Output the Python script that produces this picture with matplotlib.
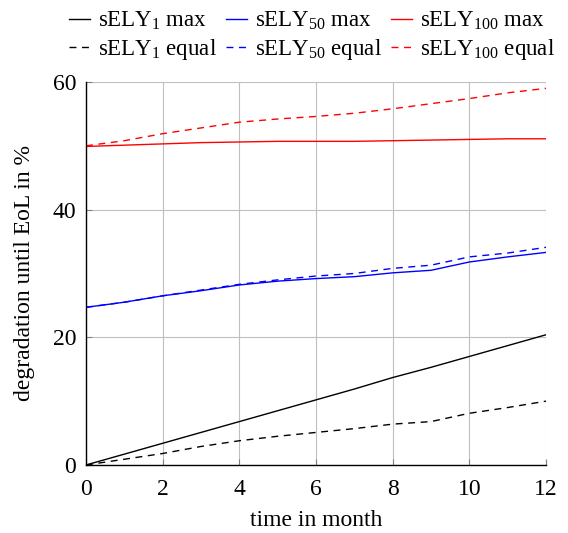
import matplotlib
matplotlib.use("Agg")
import matplotlib.pyplot as plt

plt.rcParams['font.family'] = ['Liberation Serif', 'DejaVu Serif']
plt.rcParams['mathtext.fontset'] = 'custom'
plt.rcParams['mathtext.rm'] = 'Liberation Serif'
plt.rcParams['mathtext.it'] = 'Liberation Serif:italic'

months = list(range(13))
ely1_max = [0.0, 1.7, 3.4, 5.1, 6.8, 8.5, 10.2, 11.9, 13.7, 15.3, 17.0, 18.7, 20.4]
ely1_equal = [0.0, 0.9, 1.8, 2.9, 3.8, 4.5, 5.1, 5.7, 6.4, 6.8, 8.1, 9.0, 10.0]
ely50_max = [24.7, 25.5, 26.5, 27.3, 28.2, 28.8, 29.2, 29.5, 30.1, 30.5, 31.8, 32.6, 33.3]
ely50_equal = [24.7, 25.5, 26.5, 27.4, 28.3, 29.0, 29.6, 30.0, 30.8, 31.3, 32.6, 33.2, 34.1]
ely100_max = [49.9, 50.1, 50.3, 50.5, 50.6, 50.7, 50.7, 50.7, 50.8, 50.9, 51.0, 51.1, 51.1]
ely100_equal = [50.0, 50.8, 51.9, 52.8, 53.7, 54.2, 54.6, 55.1, 55.8, 56.6, 57.4, 58.3, 59.0]

fig = plt.figure(figsize=(5.68, 5.33), dpi=100)
ax = fig.add_axes([0.1514, 0.1276, 0.8099, 0.7186])

lw = 1.0
dash = (0, (5, 4))
h1, = ax.plot(months, ely1_max, color='black', lw=lw, label='sELY$_{1}$ max')
h2, = ax.plot(months, ely1_equal, color='black', lw=lw, ls=dash, label='sELY$_{1}$ equal')
h3, = ax.plot(months, ely50_max, color='blue', lw=lw, label='sELY$_{50}$ max')
h4, = ax.plot(months, ely50_equal, color='blue', lw=lw, ls=dash, label='sELY$_{50}$ equal')
h5, = ax.plot(months, ely100_max, color='red', lw=lw, label='sELY$_{100}$ max')
h6, = ax.plot(months, ely100_equal, color='red', lw=lw, ls=dash, label='sELY$_{100}$ equal')

ax.set_xlim(0, 12)
ax.set_ylim(0, 60)
ax.set_xticks([0, 2, 4, 6, 8, 10, 12])
ax.set_yticks([0, 20, 40, 60])
ax.grid(True, color='#bfbfbf', lw=0.8)
ax.set_axisbelow(True)
for s in ['top', 'right']:
    ax.spines[s].set_visible(False)
for s in ['left', 'bottom']:
    ax.spines[s].set_linewidth(1.0)
ax.tick_params(axis='both', which='major', labelsize=17, length=4, width=0.8,
               direction='in', color='#808080')
ax.tick_params(axis='y', pad=7)
ax.tick_params(axis='x', pad=10)
ax.set_xlabel('time in month', fontsize=17, labelpad=7)
ax.set_ylabel('degradation until EoL in %', fontsize=17, labelpad=13)

fig.legend(handles=[h1, h2, h3, h4, h5, h6], ncol=3, loc='upper left',
           bbox_to_anchor=(69 / 568, 1 - 10 / 533), frameon=False, fontsize=16.5,
           handlelength=0.93, handletextpad=0.35, columnspacing=0.38,
           labelspacing=0.2, borderpad=0.0, borderaxespad=0.0)

fig.savefig('out.png', dpi=100)
